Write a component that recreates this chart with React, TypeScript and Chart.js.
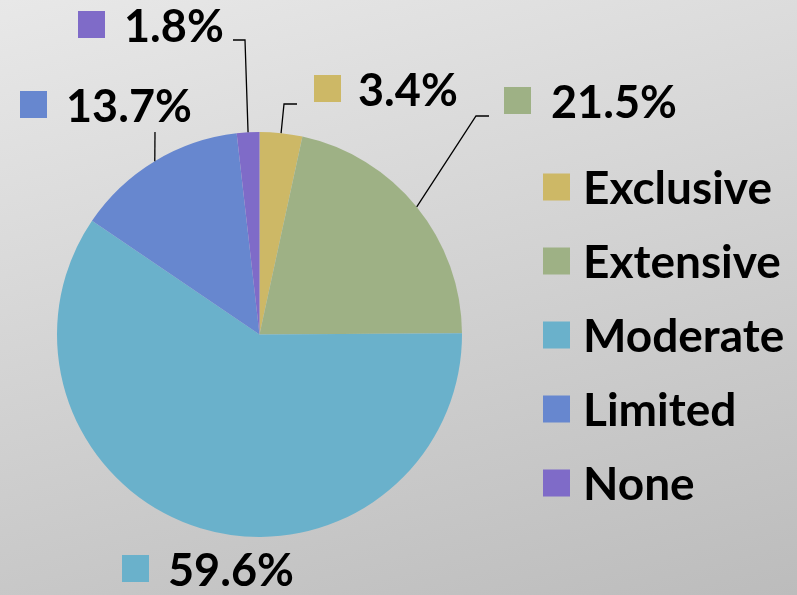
import React, { useEffect, useRef } from "react";
import { Chart, registerables } from "chart.js";

Chart.register(...registerables);

const categories = ["Exclusive", "Extensive", "Moderate", "Limited", "None"];
const values = [3.4, 21.5, 59.6, 13.7, 1.8];
const valueLabels = ["3.4%", "21.5%", "59.6%", "13.7%", "1.8%"];
const colors = ["#CDB866", "#9EB185", "#6AB1CB", "#6787CF", "#7F6BC8"];

// label layout: square top-left, text x, optional leader elbow/end
const labelLayout = [
  { sx: 314, sy: 75, tx: 358, elbow: [284, 104], end: [297, 104] },
  { sx: 504, sy: 87, tx: 551, elbow: [476, 116], end: [489, 116] },
  { sx: 122, sy: 555, tx: 168, elbow: null, end: null },
  { sx: 20, sy: 91, tx: 66, elbow: [155, 132], end: [155, 132] },
  { sx: 78, sy: 11, tx: 124, elbow: [245, 40], end: [233, 40] },
];

const legendLayout = { sx: 543, tx: 583, y0: 187, step: 74, box: 27 };
const FONT = "bold 45px Lato, 'Open Sans', sans-serif";
const LEGEND_FONT = "bold 46px Lato, 'Open Sans', sans-serif";

const labelPlugin = {
  id: "customLabels",
  afterDatasetsDraw(chart: any) {
    const ctx = chart.ctx;
    const meta = chart.getDatasetMeta(0);
    ctx.save();
    ctx.font = FONT;
    ctx.textBaseline = "middle";
    ctx.textAlign = "left";
    meta.data.forEach((arc: any, i: number) => {
      const L = labelLayout[i];
      const mid = (arc.startAngle + arc.endAngle) / 2;
      const px = arc.x + Math.cos(mid) * arc.outerRadius;
      const py = arc.y + Math.sin(mid) * arc.outerRadius;
      if (L.elbow) {
        ctx.strokeStyle = "#000";
        ctx.lineWidth = 1.3;
        ctx.beginPath();
        ctx.moveTo(px, py);
        ctx.lineTo(L.elbow[0], L.elbow[1]);
        ctx.lineTo(L.end![0], L.end![1]);
        ctx.stroke();
      }
      ctx.fillStyle = colors[i];
      ctx.fillRect(L.sx, L.sy, 27, 27);
      ctx.fillStyle = "#000";
      ctx.fillText(valueLabels[i], L.tx, L.sy + 16);
    });
    // legend
    ctx.font = LEGEND_FONT;
    categories.forEach((c, i) => {
      const cy = legendLayout.y0 + i * legendLayout.step;
      ctx.fillStyle = colors[i];
      ctx.fillRect(legendLayout.sx, cy - 13.5, legendLayout.box, legendLayout.box);
      ctx.fillStyle = "#000";
      ctx.fillText(c, legendLayout.tx, cy + 2);
    });
    ctx.restore();
  },
};

export default function App() {
  const ref = useRef<HTMLCanvasElement>(null);
  useEffect(() => {
    const chart = new Chart(ref.current!, {
      type: "pie",
      data: {
        labels: categories,
        datasets: [
          {
            data: values,
            backgroundColor: colors,
            borderWidth: 0,
          },
        ],
      },
      options: {
        responsive: false,
        animation: false,
        layout: { padding: { left: 57, right: 335, top: 132, bottom: 58 } },
        plugins: { legend: { display: false }, tooltip: { enabled: false } },
      },
      plugins: [labelPlugin],
    });
    return () => chart.destroy();
  }, []);
  return (
    <div
      style={{
        position: "fixed",
        left: 0,
        top: 0,
        width: 797,
        height: 595,
        background: "linear-gradient(165deg, #e8e8e8 0%, #d2d2d2 50%, #bcbcbc 100%)",
      }}
    >
      <canvas ref={ref} width={797} height={595} />
    </div>
  );
}
